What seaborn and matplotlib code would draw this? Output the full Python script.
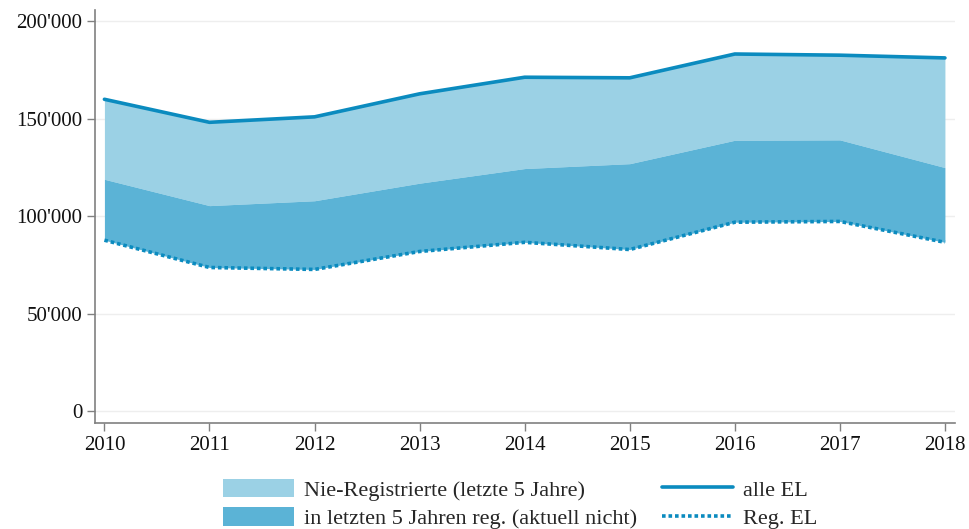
import pandas as pd
import matplotlib
matplotlib.use("Agg")
import matplotlib.pyplot as plt
import seaborn as sns
from matplotlib.patches import Patch
from matplotlib.lines import Line2D
from matplotlib.ticker import FuncFormatter

# Data
years = [2010, 2011, 2012, 2013, 2014, 2015, 2016, 2017, 2018]
alle_el = [160000, 148200, 151000, 162800, 171300, 171000, 183200, 182600, 181200]
reg_letzte5 = [119000, 105500, 108000, 117000, 124500, 127000, 139000, 139200, 125000]
reg_el = [87800, 73800, 72800, 82000, 86700, 83000, 97000, 97400, 86700]

labels = ["Nie-Registrierte (letzte 5 Jahre)",
          "in letzten 5 Jahren reg. (aktuell nicht)",
          "alle EL", "Reg. EL"]

light = "#9bd1e5"
mid = "#5bb3d6"
line_col = "#0b8bbf"

df = pd.DataFrame({"Jahr": years, "alle EL": alle_el,
                   "reg5": reg_letzte5, "Reg. EL": reg_el})

sns.set_style("white")
plt.rcParams["font.family"] = ["Liberation Serif", "DejaVu Serif"]

fig = plt.figure(figsize=(9.69, 5.29), dpi=100)
ax = fig.add_axes([0.098, 0.2, 0.888, 0.782])

# Stacked areas
ax.fill_between(df["Jahr"], df["reg5"], df["alle EL"], color=light, linewidth=0)
ax.fill_between(df["Jahr"], df["Reg. EL"], df["reg5"], color=mid, linewidth=0)

# Lines
dotted = (0, (1, 0.8))
sns.lineplot(data=df, x="Jahr", y="alle EL", color=line_col, linewidth=2.6, ax=ax)
sns.lineplot(data=df, x="Jahr", y="Reg. EL", color=line_col, linewidth=2.6,
             linestyle=dotted, ax=ax)

ax.set_xlim(2009.91, 2018.1)
ax.set_ylim(-6000, 206000)
ax.set_xticks(years)
ax.set_yticks([0, 50000, 100000, 150000, 200000])
ax.yaxis.set_major_formatter(FuncFormatter(lambda v, p: f"{int(v):,}".replace(",", "'")))
ax.set_xlabel("")
ax.set_ylabel("")

ax.grid(axis="y", color="#eeeeee", linewidth=1)
ax.set_axisbelow(True)
for s in ["top", "right"]:
    ax.spines[s].set_visible(False)
for s in ["left", "bottom"]:
    ax.spines[s].set_color("#808080")
    ax.spines[s].set_linewidth(1.2)
ax.tick_params(axis="both", bottom=True, left=True, direction="out", length=6, width=1,
               color="#808080", labelsize=15, labelcolor="#111111", pad=3)

handles = [Patch(facecolor=light, edgecolor="none"),
           Patch(facecolor=mid, edgecolor="none"),
           Line2D([], [], color=line_col, linewidth=2.6),
           Line2D([], [], color=line_col, linewidth=2.6, linestyle=dotted)]
fig.legend(handles, labels, ncol=2, loc="lower center", bbox_to_anchor=(0.537, -0.038),
           frameon=False, fontsize=16, handlelength=3.2, handleheight=0.9,
           handletextpad=0.45, columnspacing=1.1, labelspacing=0.3)

fig.savefig("out.png", dpi=100)
